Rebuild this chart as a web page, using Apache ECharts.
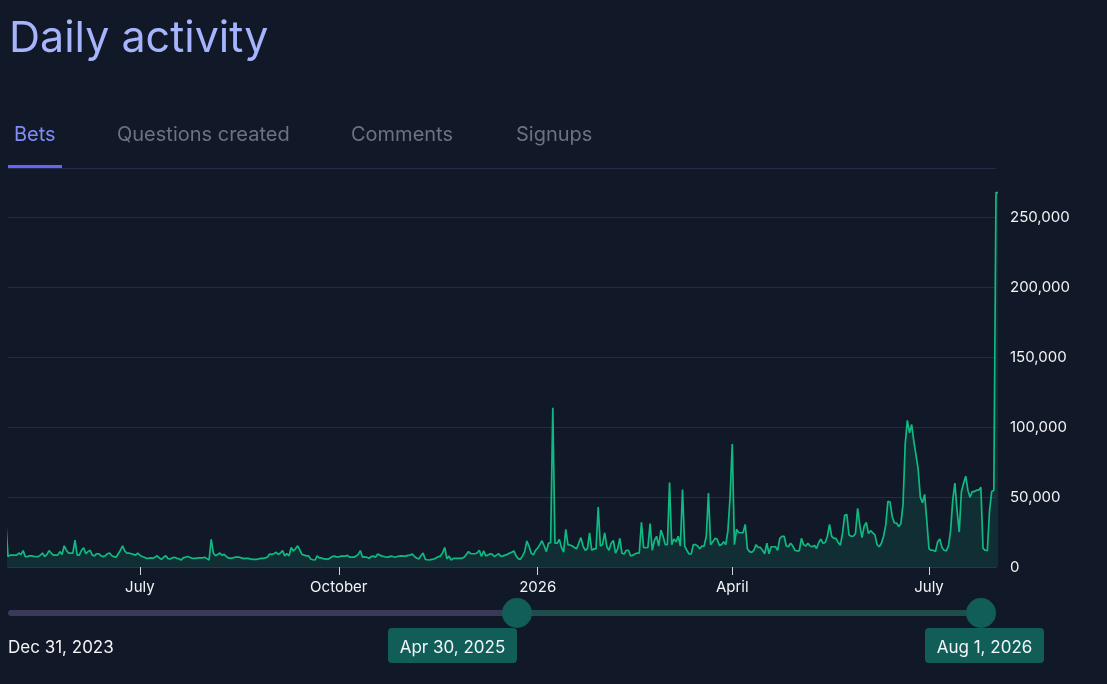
<!DOCTYPE html>
<html>
<head>
<meta charset="utf-8">
<script src="https://cdn.jsdelivr.net/npm/echarts@6.0.0/dist/echarts.min.js"></script>
<style>
  html, body { margin: 0; padding: 0; background: #111827; }
  #chart { width: 1107px; height: 684px; }
</style>
</head>
<body>
<div id="chart"></div>
<script>
// Daily bets (one value per day)
const bets2025Apr = [13500, 9000, 8500, 32000]; // Apr 27 - Apr 30
const bets2025May = [7400,8500,8500,8500,8500,10000,9000,11700,7400,7400,8000,8000,7500,7400,7400,8500,10000,7400,9000,11700,10000,8500,8500,8500,11000,9000,15200,12000,10000,10000,10000];
const bets2025Jun = [19300,8500,8500,12000,13800,9500,11000,12000,8500,8000,9500,9500,8000,7400,8000,9500,10000,8000,7400,7000,9500,12000,15200,11500,10000,10000,9500,9000,8500,10000];
const bets2025Jul = [8500,7500,7000,6200,6200,6500,6200,7000,8000,6500,5500,7000,8000,6000,5800,6500,7000,6200,6000,5000,6500,7000,7500,7000,6200,6200,6200,6500,6500,6500,7000];
const bets2025Aug = [6000,5000,19800,10000,8000,9000,10000,8500,9000,7500,6500,6200,6500,7000,7000,7000,6500,6000,6200,6200,5800,5500,5500,5500,5800,6200,6200,6500,7000,9300,9000];
const bets2025Sep = [9500,10500,9000,10000,11700,8000,9500,8000,14000,11500,13000,15200,12000,9000,8500,8000,8000,5700,5200,5000,8000,6500,6500,5800,5800,5500,6500,7500,7800,7200];
const bets2025Oct = [7200,7800,7800,7800,8300,7000,7000,7000,7800,9000,11700,7000,7300,7000,6200,7500,7800,7000,9300,8500,7800,7500,7000,7000,7800,7500,7000,7500,7800,8000,7800];
const bets2025Nov = [7800,8300,8500,9300,7500,6500,5700,8000,10000,5500,5200,5000,5500,5700,6500,7300,7800,10000,14000,6000,7800,5000,6200,6200,6200,6200,6200,7000,9000,11000];
const bets2025Dec = [9500,9500,9500,10000,12000,7500,11500,8000,8500,9500,9000,7500,8500,9500,7500,8000,8500,9000,10000,10500,11500,8000,6000,5500,8000,11000,18600,15000,10000,8600,12000];
const bets2026Jan = [13500,16000,18800,15000,11000,17000,17400,114000,17000,17000,19800,14000,10700,27000,16000,15700,15000,14000,13000,17000,21000,15000,12000,13000,24500,12000,13000,13000,43000,15000,16000];
const bets2026Feb = [24500,14500,12000,17000,19000,10000,13000,20500,9800,9300,12000,12000,7900,8500,9300,10000,10000,32000,14000,13800,14000,31000,12000,19000,22000,15000,26400,22000];
const bets2026Mar = [16000,16000,60500,16000,20000,18000,22000,15000,55500,15000,12000,9300,9300,16000,16000,15000,13000,15000,15000,22000,53000,16000,18000,20500,20000,15500,16000,18000,16000,26000,50000];
const bets2026Apr = [88000,16000,27000,24500,24500,24500,30500,13000,11000,10500,12000,16000,14000,14000,12000,9500,17000,9500,14500,14500,14500,12000,20500,22000,22000,15000,14500,17000,15000,12000];
const bets2026May = [11500,11500,20500,16000,15000,17000,15000,14500,15500,13300,17500,20000,17000,17500,22000,30500,22000,20500,20500,17500,15500,24000,37000,37600,23000,22000,22000,24000,42000,30000,21000];
const bets2026Jun = [29000,32000,24000,26000,24500,23000,16000,14500,17000,22000,30000,47000,46500,36000,31500,31500,29000,31000,45000,88000,105000,96000,102000,90000,80000,70000,50000,46000,52000,33000];
const bets2026Jul = [13000,12000,12000,11000,18000,20000,14000,12000,11500,15000,26000,48000,60000,40000,25000,54000,60000,65000,55000,50000,54000,54000,55000,55000,57000,13300,12000,11700,40000,54000,55000];
const bets2026Aug = [268000, 268000];

// [year, month (1-12), first day, values]
const monthBlocks = [
  [2025, 4, 27, bets2025Apr], [2025, 5, 1, bets2025May], [2025, 6, 1, bets2025Jun],
  [2025, 7, 1, bets2025Jul], [2025, 8, 1, bets2025Aug], [2025, 9, 1, bets2025Sep],
  [2025, 10, 1, bets2025Oct], [2025, 11, 1, bets2025Nov], [2025, 12, 1, bets2025Dec],
  [2026, 1, 1, bets2026Jan], [2026, 2, 1, bets2026Feb], [2026, 3, 1, bets2026Mar],
  [2026, 4, 1, bets2026Apr], [2026, 5, 1, bets2026May], [2026, 6, 1, bets2026Jun],
  [2026, 7, 1, bets2026Jul], [2026, 8, 1, bets2026Aug]
];

const tickDates = [[2025, 7, 1], [2025, 10, 1], [2026, 1, 1], [2026, 4, 1], [2026, 7, 1]];
const tickLabels = ['July', 'October', '2026', 'April', 'July'];
const xRange = [[2025, 5, 1], [2026, 8, 1]];
const yTicks = [0, 50000, 100000, 150000, 200000, 250000];

const tabs = ['Bets', 'Questions created', 'Comments', 'Signups'];
const sliderLabels = ['Dec 31, 2023', 'Apr 30, 2025', 'Aug 1, 2026'];

function ts(y, m, d) { return Date.UTC(y, m - 1, d); }

const seriesData = [];
monthBlocks.forEach(([y, m, d0, vals]) => {
  vals.forEach((v, i) => seriesData.push([ts(y, m, d0 + i), v]));
});
const tickValues = tickDates.map(t => ts(t[0], t[1], t[2]));

const chart = echarts.init(document.getElementById('chart'), null, { renderer: 'canvas' });
const FONT = 'Inter, "Noto Sans", sans-serif';

const tabX = [14, 117, 351, 516];

const graphics = [
  { type: 'text', left: 9, top: 18, style: { text: 'Daily activity', fill: '#a5b4fc', font: '400 43px ' + FONT } },
  { type: 'rect', shape: { x: 8, y: 168, width: 988, height: 1 }, style: { fill: '#262a4c' } },
  { type: 'rect', shape: { x: 8, y: 165, width: 54, height: 3 }, style: { fill: '#6366f1' } },
  // slider
  { type: 'rect', shape: { x: 8, y: 610, width: 512, height: 6, r: 3 }, style: { fill: '#3a3a58' } },
  { type: 'rect', shape: { x: 517, y: 610, width: 464, height: 6 }, style: { fill: '#1e4d4b' } },
  { type: 'circle', shape: { cx: 517, cy: 613, r: 15 }, style: { fill: '#115e59' } },
  { type: 'circle', shape: { cx: 981, cy: 613, r: 15 }, style: { fill: '#115e59' } },
  { type: 'rect', shape: { x: 388, y: 628, width: 129, height: 35, r: 4 }, style: { fill: '#115e59' } },
  { type: 'rect', shape: { x: 925, y: 628, width: 119, height: 35, r: 4 }, style: { fill: '#115e59' } },
  { type: 'text', x: 8, y: 648, style: { text: sliderLabels[0], fill: '#f3f4f6', font: '400 17px ' + FONT, textVerticalAlign: 'middle' } },
  { type: 'text', x: 452.5, y: 647.5, style: { text: sliderLabels[1], fill: '#f3f4f6', font: '400 17px ' + FONT, textAlign: 'center', textVerticalAlign: 'middle' } },
  { type: 'text', x: 984.5, y: 647.5, style: { text: sliderLabels[2], fill: '#f3f4f6', font: '400 17px ' + FONT, textAlign: 'center', textVerticalAlign: 'middle' } }
];
tabs.forEach((t, i) => {
  graphics.push({ type: 'text', x: tabX[i], y: 134.5, style: { text: t, fill: i === 0 ? '#818cf8' : '#6b7280', font: '400 20px ' + FONT, textVerticalAlign: 'middle' } });
});

chart.setOption({
  backgroundColor: '#111827',
  animation: false,
  grid: { left: 8, right: 111, top: 192.6, bottom: 117 },
  xAxis: {
    type: 'value',
    min: ts(...xRange[0]),
    max: ts(...xRange[1]),
    axisLine: { show: true, lineStyle: { color: '#2f3444', width: 1 } },
    axisTick: { show: true, customValues: tickValues, length: 8, lineStyle: { color: '#d1d5db', width: 1 } },
    axisLabel: {
      customValues: tickValues,
      color: '#f3f4f6',
      fontSize: 15,
      fontFamily: FONT,
      margin: 13,
      formatter: (v) => {
        let best = 0;
        tickValues.forEach((t, i) => { if (Math.abs(t - v) < Math.abs(tickValues[best] - v)) best = i; });
        return tickLabels[best];
      }
    },
    splitLine: { show: false }
  },
  yAxis: {
    type: 'value',
    position: 'right',
    min: 0,
    max: (e) => e.max,
    interval: yTicks[1] - yTicks[0],
    axisLine: { show: false },
    axisTick: { show: false },
    axisLabel: {
      color: '#f3f4f6',
      fontSize: 15,
      fontFamily: FONT,
      margin: 14,
      showMaxLabel: false,
      formatter: (v) => v.toLocaleString('en-US')
    },
    splitLine: { show: true, showMaxLine: false, lineStyle: { color: '#272c3c', width: 1 } }
  },
  series: [{
    type: 'line',
    data: seriesData,
    showSymbol: false,
    symbol: 'none',
    clip: false,
    lineStyle: { color: '#10b981', width: 1.7 },
    areaStyle: { color: 'rgba(16,185,129,0.2)' },
    emphasis: { disabled: true }
  }],
  graphic: graphics
});
</script>
</body>
</html>
